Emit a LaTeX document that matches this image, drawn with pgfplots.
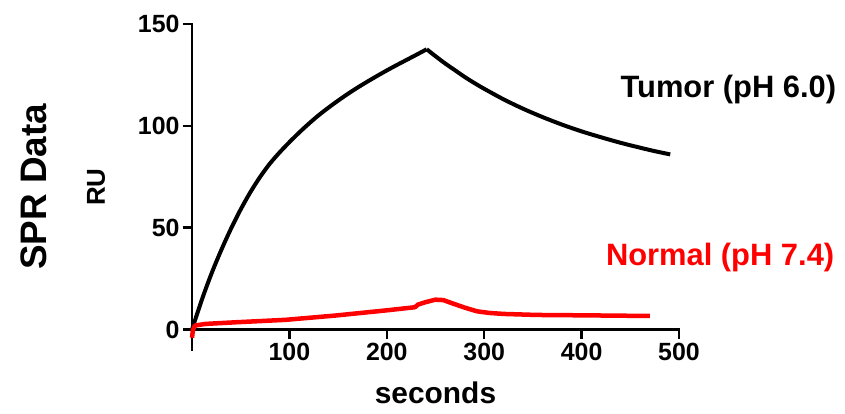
\documentclass[border=0pt]{standalone}
\usepackage{fontspec}
\setmainfont{Liberation Sans}
\usepackage{pgfplots}
\pgfplotsset{compat=1.18}

\begin{document}
\begin{tikzpicture}
\begin{axis}[
  scale only axis,
  width=487bp, height=326bp,
  xmin=0, xmax=500, ymin=-10, ymax=150,
  axis x line=middle, axis y line=left,
  axis line style={-, line width=2.5bp, line cap=rect},
  xtick={100,200,300,400,500},
  ytick={0,50,100,150},
  tick align=outside,
  major tick length=9bp,
  tick style={line width=2.5bp, black},
  /pgf/number format/assume math mode=true,
  tick label style={font=\bfseries\fontsize{25}{25}\selectfont},
  xticklabel style={yshift=-1bp},
  clip=false,
]
% tumor, pH 6.0: association
\addplot[black, line width=4bp, smooth, tension=0.5] coordinates {
  (0,0) (10,14.5) (20,27.5) (30,39) (40,49.5) (50,59) (60,67.5) (70,75)
  (80,81.5) (90,87) (100,92) (110,96.7) (120,101.1) (130,105.2) (140,108.9)
  (150,112.4) (160,115.7) (170,118.8) (180,121.7) (190,124.5) (200,127.2)
  (210,129.8) (220,132.3) (230,134.8) (241,137.6)
};
% tumor, pH 6.0: dissociation
\addplot[black, line width=4bp, smooth, tension=0.5] coordinates {
  (241,137.6) (250,134.2) (260,130.6) (270,127.3) (280,124) (290,121)
  (300,118.2) (320,113) (340,108.4) (360,104.3) (380,100.6) (400,97.3)
  (420,94.4) (440,91.7) (460,89.3) (475,87.6) (491,86)
};
% normal, pH 7.4
\addplot[red, line width=4.5bp, line join=round] coordinates {
  (0,-4) (1,0) (3,2) (13.8,2.8) (44.6,3.6) (95.9,4.8) (147,6.9) (198.5,9.4)
  (229,11) (232,12.3) (240,13.5) (250,14.7) (258,14.5) (268.5,12.7) (280,10.8)
  (292.5,9.0) (305,8.2) (320,7.7) (354,7.2) (405,7.0) (470,6.7)
};
\node[anchor=base east, font=\bfseries\fontsize{31}{31}\selectfont]
  at (axis cs:665,114) {Tumor (pH 6.0)};
\node[anchor=base east, font=\bfseries\fontsize{31}{31}\selectfont, text=red]
  at (axis cs:663,31.6) {Normal (pH 7.4)};
\node[rotate=90, font=\bfseries\fontsize{37}{37}\selectfont]
  at ([xshift=-158bp]rel axis cs:0,0.5) {SPR Data};
\node[rotate=90, font=\bfseries\fontsize{26}{26}\selectfont]
  at ([xshift=-96bp]rel axis cs:0,0.5) {RU};
\node[font=\bfseries\fontsize{30}{30}\selectfont]
  at ([yshift=-43bp]rel axis cs:0.5,0) {seconds};
\end{axis}
\pgfresetboundingbox
\path (current axis.south west) ++(-192bp,-64bp) coordinate (bl);
\path (current axis.north east) ++(166bp,24bp) coordinate (tr);
\useasboundingbox (bl) rectangle (tr);
\end{tikzpicture}
\end{document}
